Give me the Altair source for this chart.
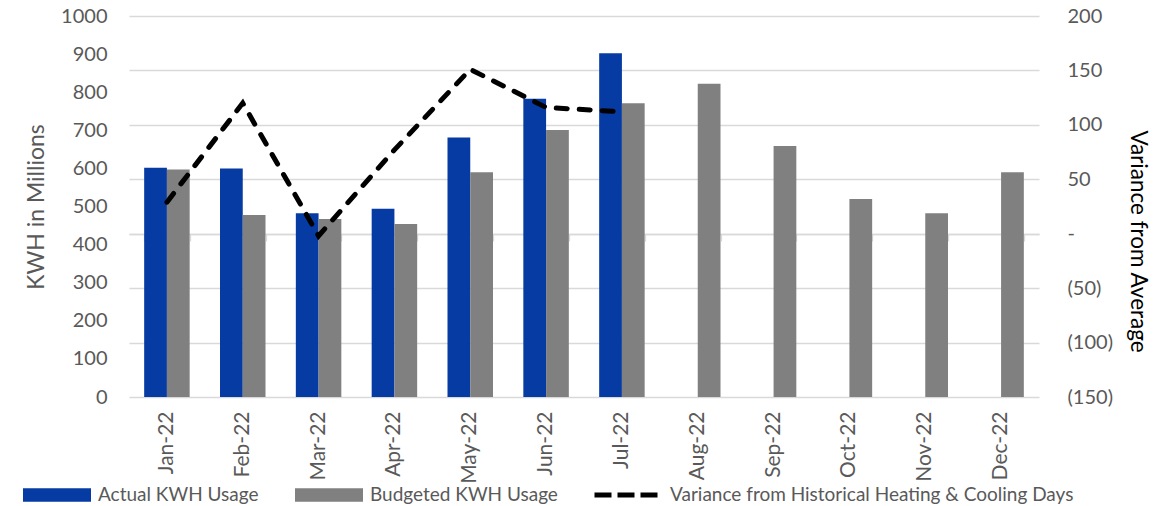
import altair as alt
import pandas as pd

# Monthly categories
months = ["Jan-22", "Feb-22", "Mar-22", "Apr-22", "May-22", "Jun-22",
          "Jul-22", "Aug-22", "Sep-22", "Oct-22", "Nov-22", "Dec-22"]

# KWH usage in millions (actuals reported through July)
actual_kwh = [602, 600, 482, 494, 681, 783, 902]
budget_kwh = [597, 478, 467, 454, 590, 701, 771, 822, 659, 520, 482, 590]

# Variance from historical heating & cooling days
variance = [29, 120, -2, 77, 151, 116, 112]

series_names = ["Actual KWH Usage", "Budgeted KWH Usage"]
line_name = "Variance from Historical Heating & Cooling Days"

rows = []
for m, v in zip(months, actual_kwh):
    rows.append({"month": m, "series": series_names[0], "kwh": v})
for m, v in zip(months, budget_kwh):
    rows.append({"month": m, "series": series_names[1], "kwh": v})
bars_df = pd.DataFrame(rows)

line_df = pd.DataFrame({
    "month": months[:len(variance)],
    "variance": variance,
    "line": [line_name] * len(variance),
})

FONT = "Lato"
LABEL_GRAY = "#595959"
GRID = "#d9d9d9"

x_scale = alt.Scale(domain=months, paddingInner=0.4, paddingOuter=0.2)

bars = alt.Chart(bars_df).mark_bar().encode(
    x=alt.X("month:N", sort=months, scale=x_scale,
            axis=alt.Axis(orient="bottom", title=None, labelAngle=-90,
                          labelFontSize=21, labelColor=LABEL_GRAY,
                          labelPadding=14, ticks=False, domain=False,
                          grid=False)),
    xOffset=alt.XOffset("series:N", sort=series_names,
                        scale=alt.Scale(domain=series_names)),
    y=alt.Y("kwh:Q",
            scale=alt.Scale(domain=[0, 1000], nice=False),
            axis=alt.Axis(orient="left", title="KWH in Millions",
                          values=list(range(0, 1001, 100)), format="d",
                          grid=False, ticks=False, domain=False,
                          labelFontSize=20, labelColor=LABEL_GRAY,
                          labelPadding=22, titleFontSize=23,
                          titleFontWeight="normal", titleColor=LABEL_GRAY,
                          titlePadding=12)),
    color=alt.Color("series:N",
                    scale=alt.Scale(domain=series_names,
                                    range=["#063BA3", "#808080"]),
                    legend=alt.Legend(orient="none", legendX=-106,
                                      legendY=445, direction="horizontal",
                                      title=None,
                                      symbolType="M-1,-0.2H1V0.2H-1Z",
                                      symbolSize=4624, symbolStrokeWidth=0,
                                      labelFontSize=19, labelLimit=600,
                                      labelColor=LABEL_GRAY, labelOffset=7,
                                      columnPadding=36, padding=0)),
)

line = alt.Chart(line_df).mark_line(
    strokeWidth=5, strokeDash=[11, 12], strokeCap="round"
).encode(
    x=alt.X("month:N", sort=months, scale=x_scale,
            axis=alt.Axis(orient="bottom", title=None, labels=False,
                          offset=-163, ticks=True, tickBand="extent",
                          tickSize=7, tickColor=GRID, tickWidth=1.3,
                          domain=True, domainColor=GRID, domainWidth=1.3,
                          grid=False)),
    y=alt.Y("variance:Q",
            scale=alt.Scale(domain=[-150, 200], nice=False),
            axis=alt.Axis(orient="right", title="Variance from Average",
                          values=list(range(-150, 201, 50)),
                          labelExpr=("datum.value == 0 ? '-' : "
                                     "(datum.value < 0 ? '(' + format(-datum.value, 'd') + ')' "
                                     ": format(datum.value, 'd'))"),
                          grid=True, gridColor=GRID, gridWidth=1.3,
                          ticks=False, domain=False,
                          labelFontSize=20, labelColor=LABEL_GRAY,
                          labelPadding=28, titleFontSize=22.5,
                          titleFontWeight="normal", titleColor="#000000",
                          titlePadding=13, titleY=225)),
    color=alt.Color("line:N",
                    scale=alt.Scale(domain=[line_name], range=["#000000"]),
                    legend=alt.Legend(orient="none", legendX=463,
                                      legendY=444, title=None,
                                      symbolType="stroke", symbolSize=4225,
                                      symbolStrokeWidth=5,
                                      symbolDash=[17, 6],
                                      labelFontSize=19, labelLimit=800,
                                      labelColor=LABEL_GRAY, labelOffset=8,
                                      padding=0)),
)

chart = alt.layer(bars, line).resolve_scale(
    y="independent", color="independent"
).resolve_axis(
    x="independent"
).properties(
    width=910, height=381,
    padding={"left": 129, "top": 16, "right": 134, "bottom": 109},
    autosize=alt.AutoSizeParams(type="none"),
).configure(
    font=FONT,
).configure_view(
    stroke=None,
)

chart.save("out.html", embed_options={"renderer": "svg", "actions": False})
